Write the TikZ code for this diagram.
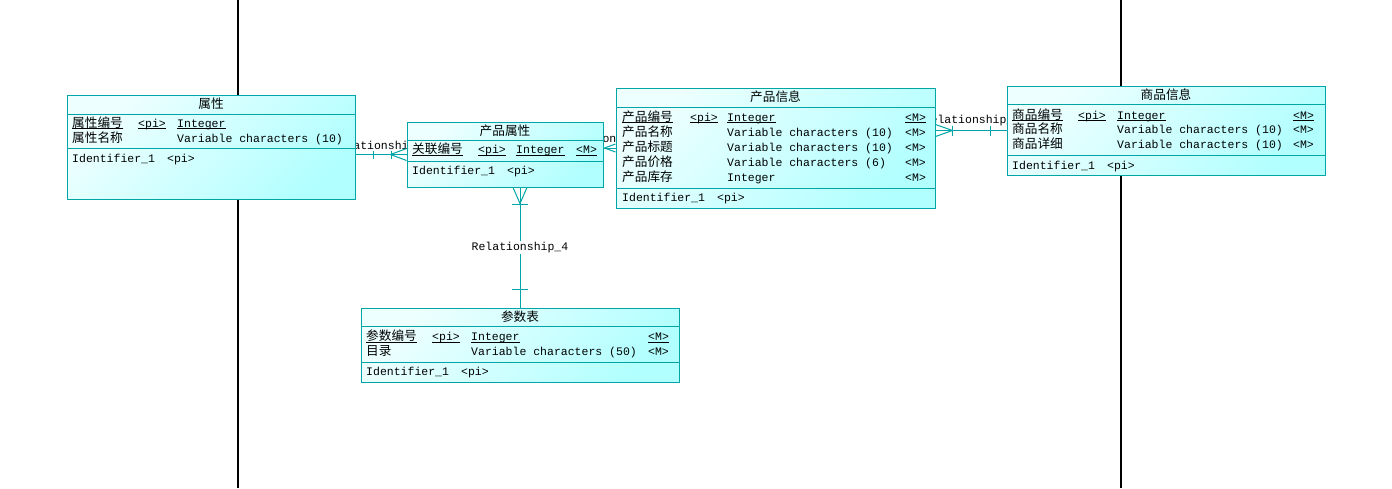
\documentclass[tikz,border=0pt]{standalone}
\usepackage{fontspec}
\setmainfont{Liberation Mono}
\newfontfamily\cjk[Scale=1.1]{Noto Sans CJK SC}
\usetikzlibrary{backgrounds}

\definecolor{erline}{RGB}{0,166,166}
\definecolor{erlight}{RGB}{238,255,255}
\definecolor{erdark}{RGB}{178,255,255}

\newcommand{\ercol}[2]{\makebox[#1pt][l]{#2}}
\newcommand{\pk}[1]{\underline{\smash{#1}}}

\tikzset{
  entity/.style={draw=erline, line width=1pt, top color=erlight, bottom color=erdark, shading angle=45, inner sep=0pt},
  rel/.style={erline, line width=1pt},
  sep/.style={erline, line width=1pt},
  pageline/.style={black, line width=1.2pt},
  rlabel/.style={fill=white, text=black, inner sep=1pt},
  cell/.style={anchor=base west, inner sep=0pt},
  etitle/.style={anchor=base, inner sep=0pt, font=\fontsize{11.5}{13}\selectfont\cjk},
}

\begin{document}
\begin{tikzpicture}[x=1pt, y=-1pt, font=\fontsize{11.5}{13}\selectfont]
    \useasboundingbox (0,0) rectangle (1392,488);

    % entities
    \node[entity, minimum width=288pt, minimum height=104pt] (sx) at (211,147) {};
    \node[entity, minimum width=196pt, minimum height=65pt] (cpsx) at (505,154.5) {};
    \node[entity, minimum width=319pt, minimum height=120pt] (cpxx) at (775.5,148) {};
    \node[entity, minimum width=318pt, minimum height=89pt] (spxx) at (1166,130.5) {};
    \node[entity, minimum width=318pt, minimum height=74pt] (cssb) at (520,345) {};

    % separators
    \draw[sep] (sx.north west) ++(0,20) -- ++(288,0) ++(-288,34) -- ++(288,0);
    \draw[sep] (cpsx.north west) ++(0,19) -- ++(196,0) ++(-196,21) -- ++(196,0);
    \draw[sep] (cpxx.north west) ++(0,20) -- ++(319,0) ++(-319,81) -- ++(319,0);
    \draw[sep] (spxx.north west) ++(0,19) -- ++(318,0) ++(-318,51) -- ++(318,0);
    \draw[sep] (cssb.north west) ++(0,19) -- ++(318,0) ++(-318,36) -- ++(318,0);

    % 属性
    \node[etitle] (sx-t) at (211,108) {属性};
    \node[cell] (sx-a1) at (72,127) {\ercol{66}{\cjk\pk{属性编号}}\ercol{39}{\pk{<pi>}}\pk{Integer}};
    \node[cell] (sx-a2) at (72,142) {\ercol{105}{\cjk 属性名称}Variable characters (10)};
    \node[cell] (sx-id) at (72,162) {\ercol{95}{Identifier\_1}<pi>};

    % 产品属性
    \node[etitle] (cpsx-t) at (505,135) {产品属性};
    \node[cell] (cpsx-a1) at (412,153.5) {\ercol{66}{\cjk\pk{关联编号}}\ercol{38}{\pk{<pi>}}\ercol{60}{\pk{Integer}}\pk{<M>}};
    \node[cell] (cpsx-id) at (412,174) {\ercol{95}{Identifier\_1}<pi>};

    % 产品信息
    \node[etitle] (cpxx-t) at (775.5,101) {产品信息};
    \node[cell] (cpxx-a1) at (622,121) {\ercol{68}{\cjk\pk{产品编号}}\ercol{37}{\pk{<pi>}}\ercol{178}{\pk{Integer}}\pk{<M>}};
    \node[cell] (cpxx-a2) at (622,136) {\ercol{105}{\cjk 产品名称}\ercol{178}{Variable characters (10)}<M>};
    \node[cell] (cpxx-a3) at (622,151) {\ercol{105}{\cjk 产品标题}\ercol{178}{Variable characters (10)}<M>};
    \node[cell] (cpxx-a4) at (622,166) {\ercol{105}{\cjk 产品价格}\ercol{178}{Variable characters (6)}<M>};
    \node[cell] (cpxx-a5) at (622,181) {\ercol{105}{\cjk 产品库存}\ercol{178}{Integer}<M>};
    \node[cell] (cpxx-id) at (622,201.5) {\ercol{95}{Identifier\_1}<pi>};

    % 商品信息
    \node[etitle] (spxx-t) at (1166,99) {商品信息};
    \node[cell] (spxx-a1) at (1012,119) {\ercol{66}{\cjk\pk{商品编号}}\ercol{39}{\pk{<pi>}}\ercol{176}{\pk{Integer}}\pk{<M>}};
    \node[cell] (spxx-a2) at (1012,133.5) {\ercol{105}{\cjk 商品名称}\ercol{176}{Variable characters (10)}<M>};
    \node[cell] (spxx-a3) at (1012,148) {\ercol{105}{\cjk 商品详细}\ercol{176}{Variable characters (10)}<M>};
    \node[cell] (spxx-id) at (1012,169) {\ercol{95}{Identifier\_1}<pi>};

    % 参数表
    \node[etitle] (cssb-t) at (520,321) {参数表};
    \node[cell] (cssb-a1) at (366,340.5) {\ercol{66}{\cjk\pk{参数编号}}\ercol{39}{\pk{<pi>}}\ercol{177}{\pk{Integer}}\pk{<M>}};
    \node[cell] (cssb-a2) at (366,355.5) {\ercol{105}{\cjk 目录}\ercol{177}{Variable characters (50)}<M>};
    \node[cell] (cssb-id) at (366,375.5) {\ercol{95}{Identifier\_1}<pi>};

    \begin{pgfonlayer}{background}
        \draw[pageline] (238,0) -- (238,488);
        \draw[pageline] (1121,0) -- (1121,488);

        % Relationship_1
        \draw[rel] (sx.east |- cpsx.west) -- node[rlabel, above=1pt] (r1) {Relationship\_1} (cpsx.west);
        \draw[rel] (sx.east |- cpsx.west) ++(18,-4) -- ++(0,8) ++(18,-8) -- ++(0,8);
        \draw[rel] (cpsx.west) ++(0,-6) -- ++(-16,6) -- ++(16,6);

        % Relationship_2
        \draw[rel] (cpsx.east |- cpxx.west) -- node[rlabel, above=2pt] (r2) {Relationship\_2} (cpxx.west);
        \draw[rel] (cpxx.west) ++(0,-4) -- ++(-11,4) -- ++(11,4);

        % Relationship_3
        \draw[rel] (cpxx.east |- spxx.west) -- node[rlabel, above=3pt, xshift=1pt] (r3) {Relationship\_3} (spxx.west);
        \draw[rel] (cpxx.east |- spxx.west) ++(17,-5) -- ++(0,10);
        \draw[rel] (spxx.west) ++(-16,-5) -- ++(0,10);
        \draw[rel] (cpxx.east |- spxx.west) ++(0,-6) -- ++(17,6) -- ++(-17,6);

        % Relationship_4
        \draw[rel] (cssb.north |- cpsx.south) -- node[rlabel] (r4) {Relationship\_4} (cssb.north);
        \draw[rel] (cssb.north |- cpsx.south) ++(-8,17) -- ++(16,0);
        \draw[rel] (cssb.north) ++(-8,-18) -- ++(16,0);
        \draw[rel] (cssb.north |- cpsx.south) ++(-7,0) -- ++(7,16) -- ++(7,-16);
    \end{pgfonlayer}
\end{tikzpicture}
\end{document}
